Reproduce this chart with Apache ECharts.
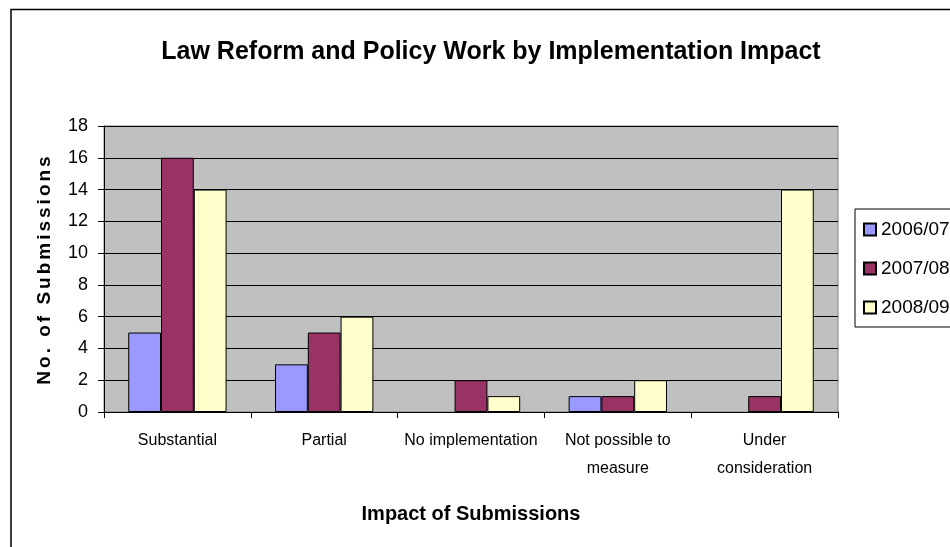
<!DOCTYPE html>
<html>
<head>
<meta charset="utf-8">
<script src="https://cdn.jsdelivr.net/npm/echarts@6/dist/echarts.min.js"></script>
<style>html,body{margin:0;padding:0;background:#fff;}#c{width:950px;height:547px;}</style>
</head>
<body>
<div id="c"></div>
<script>
const categories = ['Substantial', 'Partial', 'No implementation', 'Not possible to\nmeasure', 'Under\nconsideration'];
const seriesNames = ['2006/07', '2007/08', '2008/09'];
const values0607 = [5, 3, 0, 1, 0];
const values0708 = [16, 5, 2, 1, 1];
const values0809 = [14, 6, 1, 2, 14];
const yTicks = [0, 2, 4, 6, 8, 10, 12, 14, 16, 18];

const colors = ['#9999FF', '#993366', '#FFFFCC'];
const FONT = '"Liberation Sans", Arial, sans-serif';
const Y_NAME = 'No. of Submissions';

// letter-spaced y axis title (as in the reference)
const origFill = CanvasRenderingContext2D.prototype.fillText;
CanvasRenderingContext2D.prototype.fillText = function (t, x, y, mw) {
  if ('letterSpacing' in this) {
    this.letterSpacing = (t === Y_NAME) ? '3px' : '0px';
  }
  return mw === undefined ? origFill.call(this, t, x, y) : origFill.call(this, t, x, y, mw);
};

const chart = echarts.init(document.getElementById('c'), null, {renderer: 'canvas'});
const dataSets = [values0607, values0708, values0809];
chart.setOption({
  animation: false,
  backgroundColor: '#ffffff',
  title: {
    text: 'Law Reform and Policy Work by Implementation Impact',
    left: 486, top: 35, textAlign: 'center',
    textStyle: {fontFamily: FONT, fontSize: 25, fontWeight: 'bold', color: '#000'}
  },
  graphic: [{
    type: 'rect', silent: true,
    shape: {x: 11, y: 9.5, width: 1200, height: 1000},
    style: {fill: 'none', stroke: '#000', lineWidth: 1.5}
  }],
  legend: {
    orient: 'vertical', left: 855, top: 209,
    data: seriesNames,
    icon: 'rect', itemWidth: 12, itemHeight: 12, itemGap: 20,
    padding: [11, 14, 10, 8],
    borderColor: '#000', borderWidth: 1,
    textStyle: {fontFamily: FONT, fontSize: 19, color: '#000'}
  },
  grid: {left: 104, right: 112, top: 126, bottom: 135, show: true,
    backgroundColor: '#C0C0C0', borderColor: '#808080', borderWidth: 1, containLabel: false},
  xAxis: {
    type: 'category', data: categories,
    name: 'Impact of Submissions', nameLocation: 'middle', nameGap: 92,
    nameTextStyle: {fontFamily: FONT, fontSize: 20, fontWeight: 'bold', color: '#000'},
    axisLine: {lineStyle: {color: '#000', width: 1}},
    axisTick: {show: true, length: 6, lineStyle: {color: '#000'}},
    axisLabel: {fontFamily: FONT, fontSize: 16, color: '#000', margin: 15, lineHeight: 28, interval: 0}
  },
  yAxis: {
    type: 'value', min: 0, max: 18, interval: 2,
    name: Y_NAME, nameLocation: 'middle', nameGap: 50, nameRotate: 90,
    nameTextStyle: {fontFamily: FONT, fontSize: 19, fontWeight: 'bold', color: '#000'},
    axisLine: {show: true, lineStyle: {color: '#000', width: 1}},
    axisTick: {show: true, length: 6, lineStyle: {color: '#000'}},
    axisLabel: {fontFamily: FONT, fontSize: 18, color: '#000', margin: 16,
      formatter: v => (yTicks.indexOf(v) >= 0 ? String(v) : '')},
    splitLine: {show: true, lineStyle: {color: '#000', width: 1}}
  },
  series: seriesNames.map((n, i) => ({
    name: n, type: 'bar',
    data: dataSets[i].map(v => (v === 0 ? {value: v, itemStyle: {borderWidth: 0}} : v)),
    barGap: '0%', barCategoryGap: '33%',
    itemStyle: {color: colors[i], borderColor: '#000', borderWidth: 1}
  }))
});
</script>
</body>
</html>
